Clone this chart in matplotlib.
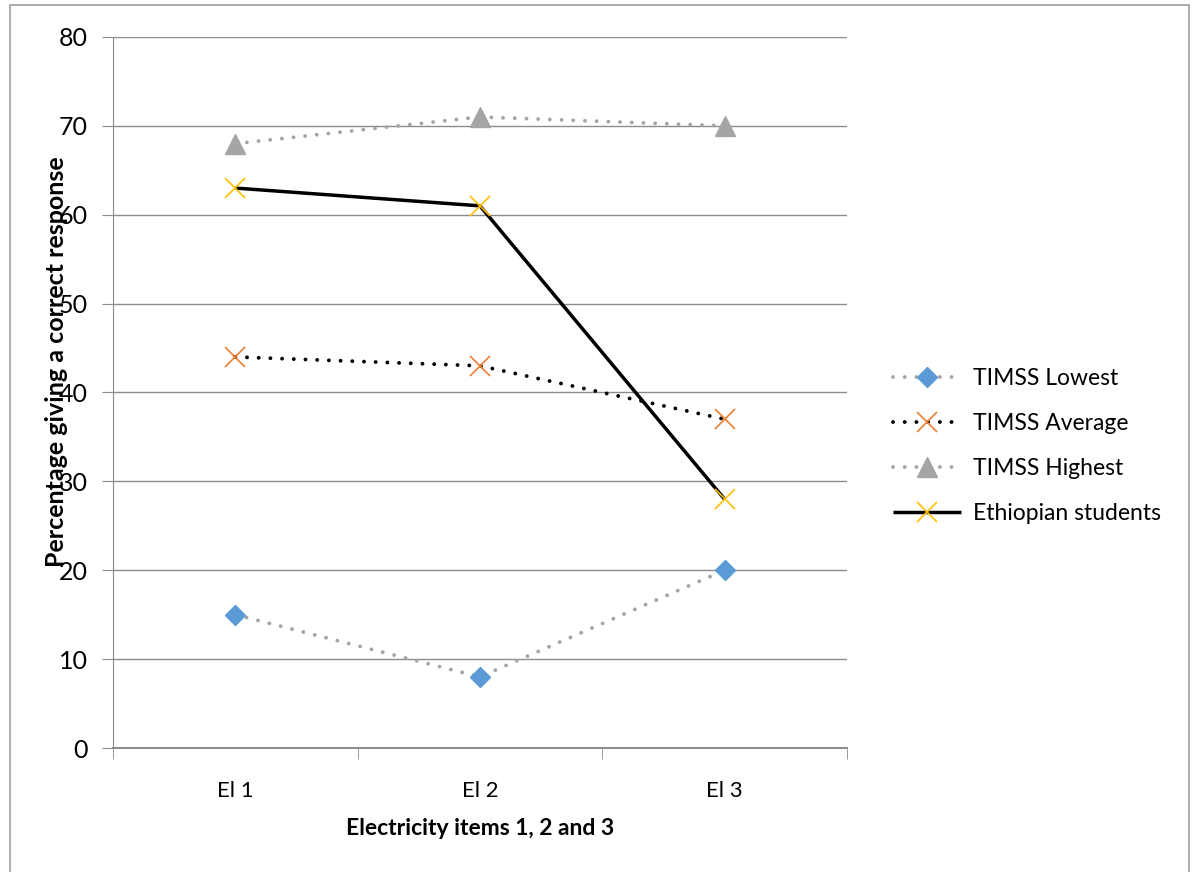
import matplotlib.pyplot as plt
from matplotlib.patches import Rectangle

categories = ["El 1", "El 2", "El 3"]
timss_lowest = [15, 8, 20]
timss_average = [44, 43, 37]
timss_highest = [68, 71, 70]
ethiopian = [63, 61, 28]

plt.rcParams['font.family'] = ['Lato', 'DejaVu Sans']

fig = plt.figure(figsize=(11.94, 8.72), dpi=100)
ax = fig.add_axes([0.0946, 0.1422, 0.6147, 0.8154])

x = range(len(categories))
dot = (0, (0.01, 3.0))

ax.plot(x, timss_lowest, color='#A5A5A5', lw=2.8, linestyle=dot, dash_capstyle='round',
        marker='D', ms=10, mfc='#5B9BD5', mec='#5B9BD5', label='TIMSS Lowest', zorder=3)
ax.plot(x, timss_average, color='black', lw=2.8, linestyle=dot, dash_capstyle='round',
        marker='x', ms=14, mew=1.2, mec='#ED7D31', label='TIMSS Average', zorder=3)
ax.plot(x, timss_highest, color='#A5A5A5', lw=2.8, linestyle=dot, dash_capstyle='round',
        marker='^', ms=14, mfc='#A5A5A5', mec='#A5A5A5', label='TIMSS Highest', zorder=3)
ax.plot(x, ethiopian, color='black', lw=2.5, solid_capstyle='butt',
        marker='x', ms=14, mew=1.2, mec='#FFC000', label='Ethiopian students', zorder=3)

ax.set_xlim(-0.5, 2.5)
ax.set_ylim(0, 80)
ax.set_yticks(range(0, 81, 10))
ax.set_xticks(x)
ax.set_xticklabels(categories, fontsize=16)
ax.set_xticks([-0.5, 0.5, 1.5, 2.5], minor=True)
ax.tick_params(axis='x', which='major', length=0, pad=24)
ax.tick_params(axis='x', which='minor', length=8, color='#8C8C8C', direction='out')
ax.tick_params(axis='y', length=8, color='#8C8C8C', labelsize=18, direction='out', pad=10)
ax.grid(axis='y', color='#8C8C8C', lw=1)
ax.set_axisbelow(True)
for s in ['top', 'right']:
    ax.spines[s].set_visible(False)
ax.spines['left'].set_color('#8C8C8C')
ax.spines['bottom'].set_color('#8C8C8C')
ax.spines['bottom'].set_linewidth(1.5)

ax.set_xlabel('Electricity items 1, 2 and 3', fontsize=16.5, fontweight='bold', labelpad=12)
fig.text(57 / 1194, 1 - 362 / 872, 'Percentage giving a correct response', rotation=90,
         fontsize=18, fontweight='bold', ha='center', va='center')

fig.legend(loc='center left', bbox_to_anchor=(872 / 1194, 1 - 446 / 872), frameon=False,
           fontsize=16.5, handlelength=3.0, labelspacing=1.05, handletextpad=0.5)

fig.patches.append(Rectangle((10 / 1194, -0.01), 1179 / 1194, 1.01 - 5 / 872,
                             transform=fig.transFigure, fill=False, ec='#A0A0A0', lw=1.2))

fig.savefig('out.png', dpi=100)
